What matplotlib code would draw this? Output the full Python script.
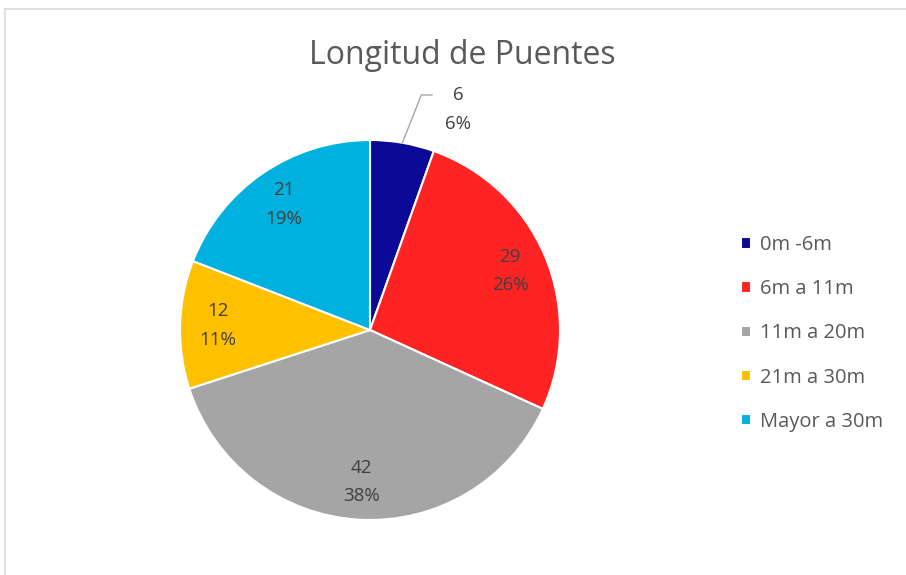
import numpy as np
import matplotlib
matplotlib.use("Agg")
import matplotlib.pyplot as plt
from matplotlib.lines import Line2D

categories = ["0m -6m", "6m a 11m", "11m a 20m", "21m a 30m", "Mayor a 30m"]
counts = [6, 29, 42, 12, 21]
pct_labels = ["6%", "26%", "38%", "11%", "19%"]
colors = ["#0A0A96", "#FF2323", "#A5A5A5", "#FFC000", "#00B0DF"]

plt.rcParams['font.family'] = ['Open Sans', 'DejaVu Sans']

fig = plt.figure(figsize=(9.06, 5.75), dpi=100)

# chart frame (light gray edges like the Excel export)
fig.add_artist(Line2D([5 / 906, 1], [1 - 9 / 575, 1 - 9 / 575], color="#D9D9D9", lw=1.2))
fig.add_artist(Line2D([5 / 906, 5 / 906], [0, 1 - 9 / 575], color="#D9D9D9", lw=1.2))

fig.text(462 / 906, 1 - 55 / 575, "Longitud de Puentes", ha="center", va="center",
         fontsize=23, color="#595959")

ax = fig.add_axes([180 / 906, 55 / 575, 380 / 906, 380 / 575])
wedges, _ = ax.pie(counts, colors=colors, startangle=90, counterclock=False, radius=1,
                   wedgeprops=dict(edgecolor="white", linewidth=1.5))
ax.set_xlim(-1, 1)
ax.set_ylim(-1, 1)
ax.set_aspect("auto")
ax.axis("off")

for i, w in enumerate(wedges):
    mid = np.deg2rad((w.theta1 + w.theta2) / 2)
    txt = f"{counts[i]}\n{pct_labels[i]}"
    if counts[i] / sum(counts) < 0.08:
        x0, y0 = np.cos(mid), np.sin(mid)
        ax.plot([x0, 0.27, 0.326], [y0, 1.237, 1.237], color="#A6A6A6", lw=1, clip_on=False)
        ax.text(0.463, 1.16, txt, ha="center", va="center", fontsize=13.5,
                color="#404040", linespacing=1.75)
    else:
        r = 0.8
        ax.text(r * np.cos(mid), r * np.sin(mid), txt, ha="center", va="center",
                fontsize=13.5, color="#404040", linespacing=1.75)

leg = fig.legend(wedges, categories, loc="upper left", bbox_to_anchor=(731 / 906, 1 - 225 / 575),
                 frameon=False, fontsize=14.5, labelcolor="#595959", handlelength=0.5,
                 handleheight=0.5, handletextpad=0.45, labelspacing=1.2, borderpad=0)

fig.savefig("out.png", dpi=100)
